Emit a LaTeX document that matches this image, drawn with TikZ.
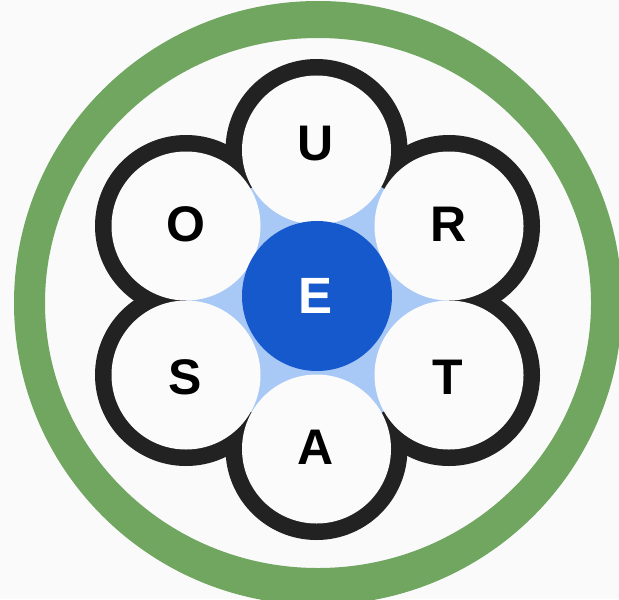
\documentclass[tikz,border=0pt]{standalone}
\usepackage{fontspec}
\setmainfont{Liberation Sans}
\definecolor{bgc}{RGB}{250,250,250}
\definecolor{ringgreen}{RGB}{112,166,96}
\definecolor{petalblack}{RGB}{34,34,34}
\definecolor{petalwhite}{RGB}{251,251,251}
\definecolor{lightblue}{RGB}{168,200,246}
\definecolor{centreblue}{RGB}{22,89,204}
\tikzset{
  letter/.style={font=\fontsize{25}{25}\selectfont\bfseries, text=black, inner sep=0pt},
  centreletter/.style={font=\fontsize{25.5}{25.5}\selectfont\bfseries, text=white, inner sep=0pt},
}
\begin{document}
\begin{tikzpicture}[x=0.5pt,y=0.5pt]
\fill[bgc] (0,0) rectangle (619,-599);
\useasboundingbox (0,0) rectangle (619,-599);
% green ring
\fill[ringgreen, even odd rule] (318,-303) ellipse [x radius=304, y radius=302]
  (318,-303) ellipse [x radius=273, y radius=265];
% petal centres
\coordinate (cU) at (316.5,-150);
\coordinate (cR) at (449,-226);
\coordinate (cT) at (449,-375);
\coordinate (cA) at (316.5,-449);
\coordinate (cS) at (186,-375);
\coordinate (cO) at (186,-226);
% black outlines
\foreach \c in {cU,cR,cT,cA,cS,cO} \fill[petalblack] (\c) circle [radius=91];
% light blue centre star
\fill[lightblue] (cU) -- (cR) -- (cT) -- (cA) -- (cS) -- (cO) -- cycle;
% white petals
\foreach \c in {cU,cR,cT,cA,cS,cO} \fill[petalwhite] (\c) circle [radius=74.5];
% centre
\coordinate (cE) at (317,-296);
\fill[centreblue] (cE) circle [radius=75];
% letters
\node[letter] (U) at (316,-144) {U};
\node[letter] (R) at (449,-224) {R};
\node[letter] (T) at (448,-377) {T};
\node[letter] (A) at (316,-447) {A};
\node[letter] (S) at (185.5,-377) {S};
\node[letter] (O) at (185.5,-224) {O};
\node[centreletter] (E) at (316,-296) {E};
\end{tikzpicture}
\end{document}
